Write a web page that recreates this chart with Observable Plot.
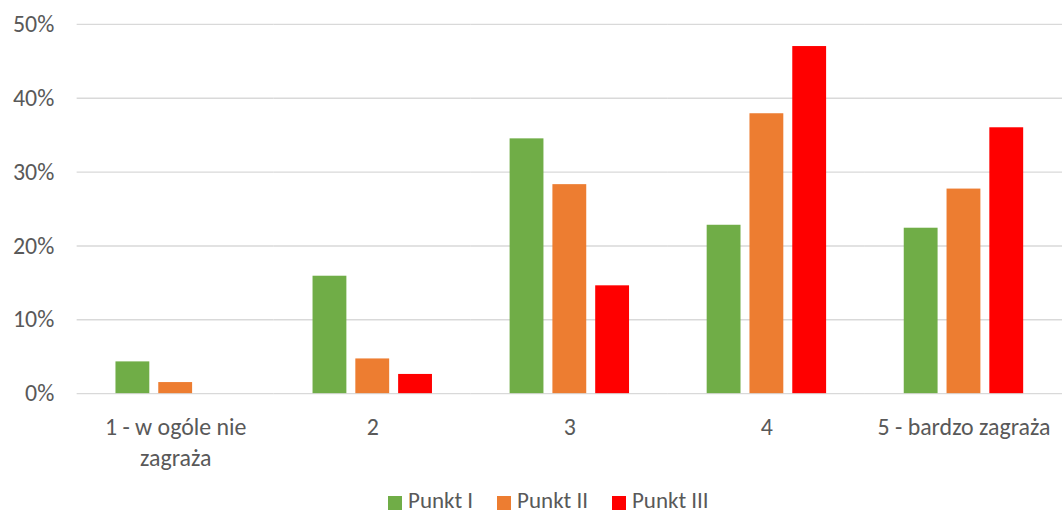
<!DOCTYPE html>
<html><head><meta charset="utf-8">
<script src="https://cdn.jsdelivr.net/npm/d3@7"></script>
<script src="https://cdn.jsdelivr.net/npm/@observablehq/plot@0.6"></script>
<style>
html,body{margin:0;background:#fff;overflow:hidden;width:1063px;height:515px;font-family:Carlito,Lato,"Liberation Sans",sans-serif;}
#chart{position:absolute;left:0;top:0;}
#legend{position:absolute;left:388px;top:488px;display:flex;gap:24px;font-size:23px;color:#595959;line-height:1.1;white-space:nowrap;}
#legend span.item{display:flex;align-items:center;gap:6px;}
#legend span.sw{display:inline-block;width:14px;height:14px;margin-top:4px;}
</style></head><body><div id="chart"></div><div id="legend"></div>
<script>
const categories = ["1 - w ogóle nie\nzagraża","2","3","4","5 - bardzo zagraża"];
const series = ["Punkt I","Punkt II","Punkt III"];
const punktI = [4.3,15.9,34.5,22.8,22.4];
const punktII = [1.5,4.7,28.3,37.9,27.7];
const punktIII = [0,2.6,14.6,47.0,36.0];
const colors = ["#70AD47","#ED7D31","#FF0000"];
const yTicks = [0,10,20,30,40,50];

const values = [punktI, punktII, punktIII];
const data = categories.flatMap((c,i)=>values.map((arr,j)=>({category:c, series:series[j], value:arr[i]})));
const font = "Carlito, Lato, 'Liberation Sans', sans-serif";

const chart = Plot.plot({
  width:1068, height:485, marginLeft:75, marginRight:0, marginTop:24, marginBottom:90,
  style:{fontFamily:font, fontSize:"24px", color:"#595959", background:"white"},
  fx:{domain:categories, padding:0, label:null},
  x:{domain:series, paddingInner:0.216, paddingOuter:0.866, axis:null},
  y:{domain:[0,50], label:null},
  color:{domain:series, range:colors},
  marks:[
    Plot.gridY(yTicks,{stroke:"#D9D9D9", strokeOpacity:1, strokeWidth:1.4}),
    Plot.axisY(yTicks,{tickSize:0, tickPadding:23, tickFormat:d=>d+"%", fontSize:24, fill:"#595959", label:null}),
    Plot.axisFx({anchor:"bottom", tickSize:0, tickPadding:19, lineHeight:1.3, fontSize:24, fill:"#595959", label:null}),
    Plot.barY(data,{fx:"category", x:"series", y:"value", fill:"series"})
  ]
});
document.getElementById("chart").appendChild(chart);

const legend = document.getElementById("legend");
series.forEach((s,i)=>{
  const item = document.createElement("span"); item.className="item";
  const sw = document.createElement("span"); sw.className="sw"; sw.style.background=colors[i];
  item.appendChild(sw); item.appendChild(document.createTextNode(s));
  legend.appendChild(item);
});
</script></body></html>
